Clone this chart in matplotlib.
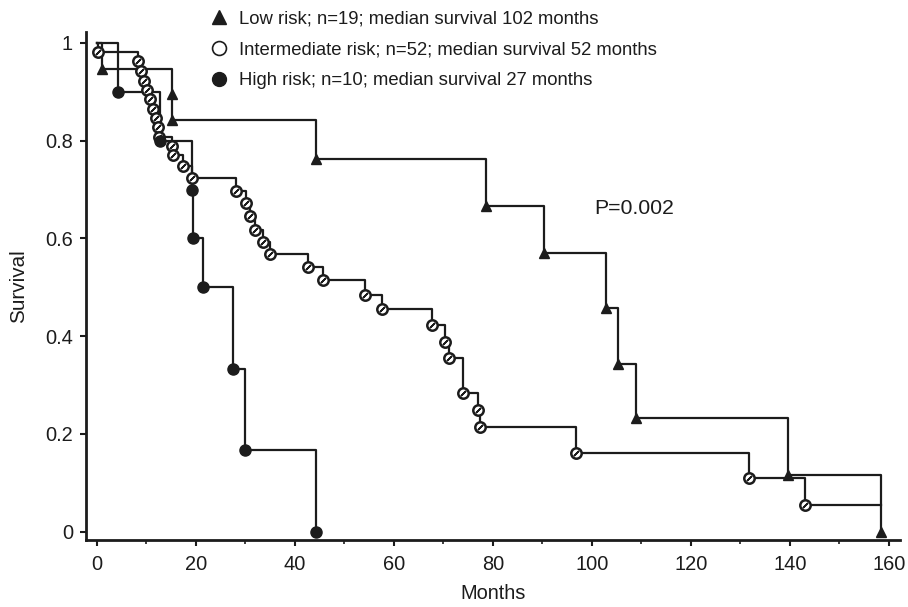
import numpy as np
import matplotlib
matplotlib.use("Agg")
import matplotlib.pyplot as plt
from matplotlib.lines import Line2D

plt.rcParams['font.family'] = ['Liberation Sans', 'DejaVu Sans']

# event times (months) and survival after each event
low_t = [1.0, 15.1, 15.1, 44.2, 78.6, 90.4, 102.8, 105.2, 109.0, 139.6, 158.4]
low_s = [0.947, 0.895, 0.842, 0.762, 0.666, 0.571, 0.457, 0.344, 0.232, 0.116, 0.0]

mid_t = [0.3, 8.3, 9.0, 9.5, 10.2, 10.8, 11.4, 12.0, 12.3, 12.6, 15.1, 15.3, 17.4, 19.3,
         28.2, 30.2, 31.0, 32.0, 33.5, 35.0, 42.7, 45.7, 54.1, 57.5, 67.6, 70.3, 71.2,
         73.9, 77.0, 77.4, 96.7, 131.8, 143.0]
mid_s = [0.981, 0.962, 0.942, 0.923, 0.904, 0.885, 0.865, 0.846, 0.827, 0.808, 0.790, 0.771,
         0.748, 0.723, 0.697, 0.672, 0.645, 0.618, 0.593, 0.568, 0.541, 0.515, 0.485, 0.455,
         0.422, 0.389, 0.355, 0.284, 0.249, 0.215, 0.160, 0.109, 0.055]
mid_end = 158.4

high_t = [4.3, 12.7, 19.3, 19.5, 21.4, 27.5, 30.0, 44.2]
high_s = [0.9, 0.8, 0.7, 0.6, 0.5, 0.333, 0.167, 0.0]

labels = ["Low risk; n=19; median survival 102 months",
          "Intermediate risk; n=52; median survival 52 months",
          "High risk; n=10; median survival 27 months"]
p_text = "P=0.002"

xticks = [0, 20, 40, 60, 80, 100, 120, 140, 160]
yticks = [0, 0.2, 0.4, 0.6, 0.8, 1.0]
yticklabels = ["0", "0.2", "0.4", "0.6", "0.8", "1"]

ink = '#1c1c1c'
fs = 14.4

fig = plt.figure(figsize=(9.08, 6.07), dpi=100)
ax = fig.add_axes([0.0947, 0.1104, 0.8963, 0.8366])

# step curves
ax.step([0] + low_t, [1.0] + low_s, where='post', color=ink, lw=1.6)
ax.step([0] + mid_t + [mid_end], [1.0] + mid_s + [mid_s[-1]], where='post', color=ink, lw=1.6)
ax.step([0] + high_t, [1.0] + high_s, where='post', color=ink, lw=1.6)

# markers on each event
ax.plot(low_t, low_s, ls='none', marker='^', ms=7.5, color=ink, clip_on=False, zorder=3)
ax.plot(mid_t, mid_s, ls='none', marker='o', ms=7.5, mfc='white', mec=ink, mew=1.8,
        clip_on=False, zorder=3)
ax.plot(mid_t, mid_s, ls='none', marker=(2, 2, -45), ms=5, mec=ink, mew=1.2,
        clip_on=False, zorder=4)
ax.plot(high_t, high_s, ls='none', marker='o', ms=8, color=ink, clip_on=False, zorder=3)

ax.text(100.4, 0.662, p_text, fontsize=15.3, va='center', ha='left', color=ink)

ax.set_xlim(-2.2, 162.2)
ax.set_ylim(-0.017, 1.022)
ax.set_xticks(xticks)
ax.set_xticks(np.arange(10, 160, 20), minor=True)
ax.set_yticks(yticks)
ax.set_yticklabels(yticklabels)
ax.tick_params(axis='both', which='major', labelsize=fs, length=4, width=1.5, color=ink,
               labelcolor=ink)
ax.tick_params(axis='x', which='minor', length=3, width=1.2, color=ink)
ax.tick_params(axis='x', pad=7)
ax.tick_params(axis='y', pad=5.3)
ax.set_xlabel("Months", fontsize=fs, color=ink, labelpad=7)
ax.set_ylabel("Survival", fontsize=14.9, color=ink, labelpad=12)
for side in ['top', 'right']:
    ax.spines[side].set_visible(False)
for side in ['left', 'bottom']:
    ax.spines[side].set_linewidth(2)
    ax.spines[side].set_color(ink)

handles = [Line2D([], [], ls='none', marker='^', ms=10, color=ink),
           Line2D([], [], ls='none', marker='o', ms=10, mfc='white', mec=ink, mew=1.2),
           Line2D([], [], ls='none', marker='o', ms=10, color=ink)]
fig.legend(handles, labels, loc='upper left', bbox_to_anchor=(0.221, 0.9985), frameon=False,
           fontsize=13.3, handlelength=1.0, handletextpad=0.55, labelspacing=0.76,
           borderpad=0, labelcolor=ink)

fig.savefig("out.png", dpi=100)
